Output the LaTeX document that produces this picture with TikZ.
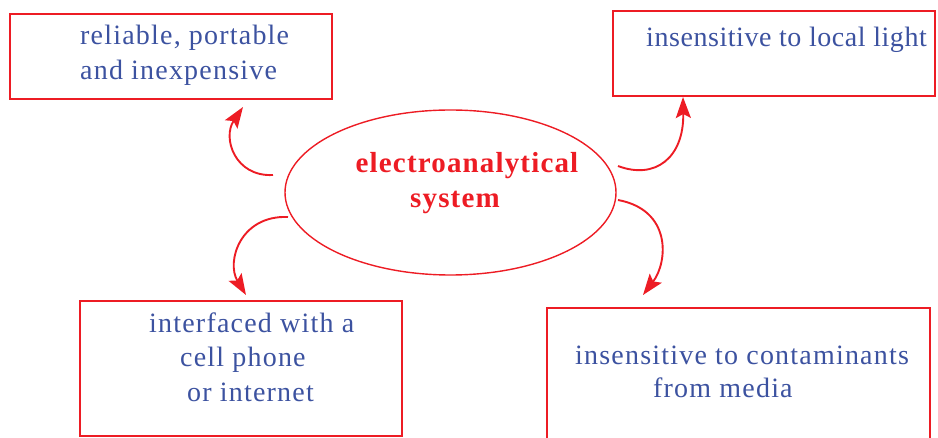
\documentclass[tikz,border=0pt]{standalone}
\usepackage{fontspec}
\setmainfont{Liberation Serif}
\usetikzlibrary{arrows.meta}
\definecolor{myred}{RGB}{237,28,36}
\definecolor{myblue}{RGB}{60,82,160}
\tikzset{
  box/.style={draw=myred, line width=1.7pt},
  txt/.style={inner sep=0pt, anchor=base west, text=myblue,
    font=\fontsize{28}{34}\selectfont\addfontfeature{LetterSpace=4.3}},
  ctxt/.style={inner sep=0pt, anchor=base, text=myred,
    font=\fontsize{29}{34}\selectfont\bfseries\addfontfeature{LetterSpace=4}},
  conn/.style={draw=myred, line width=1.9pt, -{Stealth[length=21pt,width=15pt,inset=4pt]}}
}
\begin{document}
\begin{tikzpicture}[x=1pt,y=-1pt]
\useasboundingbox (0,0) rectangle (938,438);
\clip (0,0) rectangle (938,438);
% boxes
\draw[box] (10,14) rectangle (332,99);
\draw[box] (613,11) rectangle (935,96);
\draw[box] (80,301) rectangle (402,436);
\draw[box] (547,308) rectangle (930,460);
% ellipse
\draw[draw=myred, line width=1.4pt] (450.5,192.5) ellipse [x radius=165.5, y radius=82.5];
\node[ctxt] (c1) at (467,173) {electroanalytical};
\node[ctxt] (c2) at (455,208) {system};
% texts
\node[txt] (t1) at (80,45) {reliable, portable};
\node[txt] (t2) at (80,80) {and inexpensive};
\node[txt, font=\fontsize{28}{34}\selectfont\addfontfeature{LetterSpace=2}] (t3) at (646,47) {insensitive to local light};
\node[txt] (t4) at (149,333) {interfaced with a};
\node[txt] (t5) at (180,367) {cell phone};
\node[txt] (t6) at (187,402) {or internet};
\node[txt] (t7) at (575,365) {insensitive to contaminants};
\node[txt] (t8) at (653,398) {from media};
% connector ends
\coordinate (a1s) at (273,175);
\coordinate (a1e) at (243,107);
\coordinate (a2s) at (618,166);
\coordinate (a2e) at (683,97);
\coordinate (a3s) at (288,217);
\coordinate (a3e) at (246,295);
\coordinate (a4s) at (618,200);
\coordinate (a4e) at (643,295);
\draw[conn] (a1s) .. controls (235,177) and (222,138) .. (a1e);
\draw[conn] (a2s) .. controls (655,180) and (684,158) .. (a2e);
\draw[conn] (a3s) .. controls (240,215) and (226,262) .. (a3e);
\draw[conn] (a4s) .. controls (672,210) and (668,262) .. (a4e);
\end{tikzpicture}
\end{document}
